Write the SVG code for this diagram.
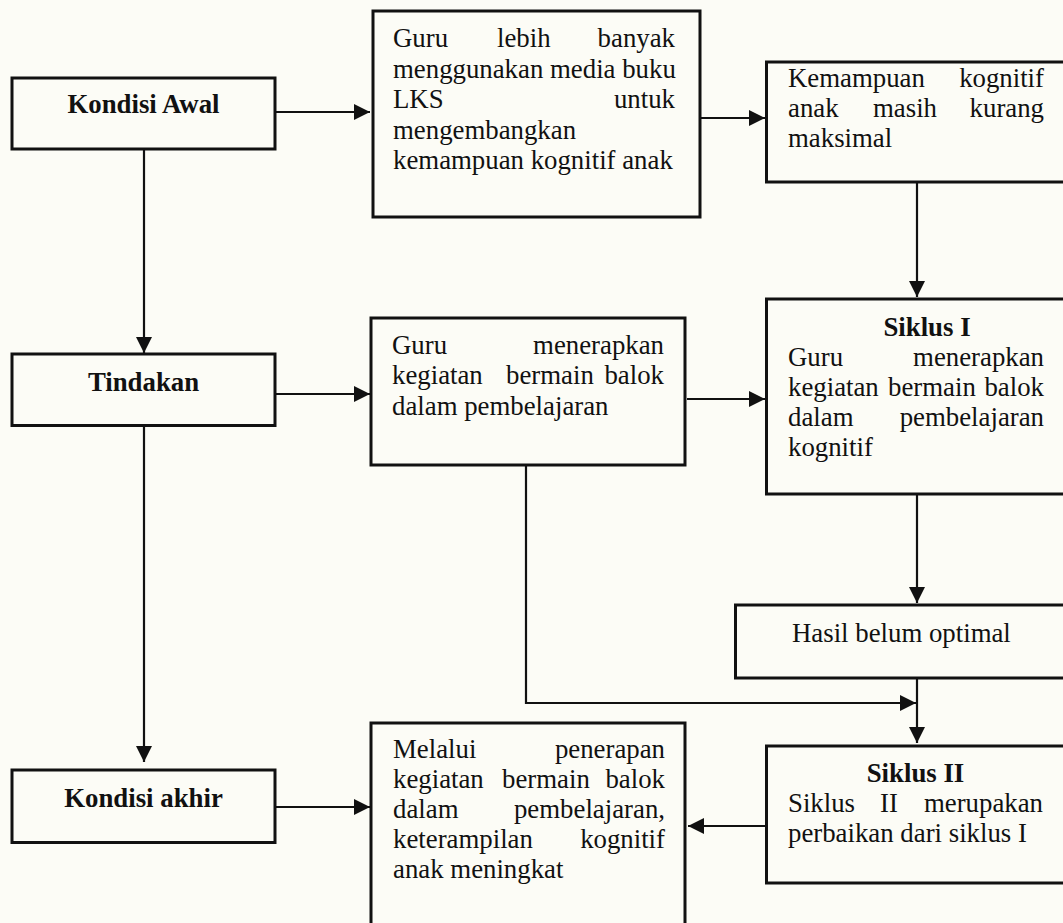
<svg xmlns="http://www.w3.org/2000/svg" width="1063" height="923" viewBox="0 0 1063 923">
<style>
.box{fill:none;stroke:#111;stroke-width:3}
.t{font-family:"Liberation Serif","Times New Roman",serif;font-size:26.8px;fill:#111}
.b{font-weight:bold}
.c{text-anchor:middle}
.e{text-anchor:end}
.ln{fill:none;stroke:#111;stroke-width:2.2}
</style>
<defs>
<marker id="ah" markerUnits="userSpaceOnUse" markerWidth="16" markerHeight="16" refX="16" refY="8" orient="auto">
<path d="M0,0 L16,8 L0,16 z" fill="#111"/>
</marker>
</defs>
<rect width="1063" height="923" fill="#fcfcf6"/>

<g id="connectors">
<line class="ln" x1="276" y1="112" x2="370" y2="112" marker-end="url(#ah)"/>
<line class="ln" x1="701" y1="118" x2="765" y2="118" marker-end="url(#ah)"/>
<line class="ln" x1="144" y1="150" x2="144" y2="353" marker-end="url(#ah)"/>
<line class="ln" x1="917" y1="183" x2="917" y2="297" marker-end="url(#ah)"/>
<line class="ln" x1="276" y1="394" x2="370" y2="394" marker-end="url(#ah)"/>
<line class="ln" x1="687" y1="399" x2="765" y2="399" marker-end="url(#ah)"/>
<line class="ln" x1="144" y1="427" x2="144" y2="762" marker-end="url(#ah)"/>
<line class="ln" x1="917" y1="495" x2="917" y2="603" marker-end="url(#ah)"/>
<polyline class="ln" points="526,466 526,703 916,703" marker-end="url(#ah)"/>
<line class="ln" x1="917" y1="679" x2="917" y2="743" marker-end="url(#ah)"/>
<line class="ln" x1="276" y1="807" x2="370" y2="807" marker-end="url(#ah)"/>
<line class="ln" x1="765" y1="826" x2="688" y2="826" marker-end="url(#ah)"/>
</g>

<g id="kondisi-awal">
<rect class="box" x="12" y="78" width="263" height="71"/>
<text class="t b c" x="143.5" y="113">Kondisi Awal</text>
</g>

<g id="guru-lks">
<rect class="box" x="373" y="11" width="327" height="206"/>
<text class="t" x="393" y="47">Guru</text>
<text class="t" x="497" y="47">lebih</text>
<text class="t e" x="675" y="47">banyak</text>
<text class="t" x="393" y="77.5">menggunakan media buku</text>
<text class="t" x="393" y="108">LKS</text>
<text class="t e" x="675" y="108">untuk</text>
<text class="t" x="393" y="138.5">mengembangkan</text>
<text class="t" x="393" y="169">kemampuan kognitif anak</text>
</g>

<g id="kemampuan">
<rect class="box" x="766.5" y="62" width="300" height="120"/>
<text class="t" x="788" y="87">Kemampuan</text>
<text class="t e" x="1044" y="87">kognitif</text>
<text class="t" x="788" y="117">anak</text>
<text class="t" x="873" y="117">masih</text>
<text class="t e" x="1044" y="117">kurang</text>
<text class="t" x="788" y="147">maksimal</text>
</g>

<g id="tindakan">
<rect class="box" x="12" y="354" width="263" height="71.5"/>
<text class="t b c" x="143.5" y="391">Tindakan</text>
</g>

<g id="guru-menerapkan">
<rect class="box" x="371" y="318" width="314" height="147"/>
<text class="t" x="392" y="354">Guru</text>
<text class="t e" x="664" y="354">menerapkan</text>
<text class="t" x="392" y="384">kegiatan</text>
<text class="t" x="506" y="384">bermain</text>
<text class="t e" x="664" y="384">balok</text>
<text class="t" x="392" y="415">dalam pembelajaran</text>
</g>

<g id="siklus-1">
<rect class="box" x="766.5" y="299" width="300" height="195"/>
<text class="t b c" x="927" y="336">Siklus I</text>
<text class="t" x="788" y="366">Guru</text>
<text class="t e" x="1044" y="366">menerapkan</text>
<text class="t" x="788" y="396">kegiatan</text>
<text class="t" x="888" y="396">bermain</text>
<text class="t e" x="1044" y="396">balok</text>
<text class="t" x="788" y="426">dalam</text>
<text class="t e" x="1044" y="426">pembelajaran</text>
<text class="t" x="788" y="456">kognitif</text>
</g>

<g id="hasil">
<rect class="box" x="735.5" y="605" width="331" height="73"/>
<text class="t" x="792" y="642">Hasil belum optimal</text>
</g>

<g id="kondisi-akhir">
<rect class="box" x="12" y="770" width="263" height="72.5"/>
<text class="t b c" x="143.5" y="807">Kondisi akhir</text>
</g>

<g id="melalui">
<rect class="box" x="371" y="723" width="314" height="210"/>
<text class="t" x="393" y="758">Melalui</text>
<text class="t e" x="665" y="758">penerapan</text>
<text class="t" x="393" y="788">kegiatan</text>
<text class="t" x="502" y="788">bermain</text>
<text class="t e" x="665" y="788">balok</text>
<text class="t" x="393" y="818">dalam</text>
<text class="t e" x="665" y="818">pembelajaran,</text>
<text class="t" x="393" y="848">keterampilan</text>
<text class="t e" x="665" y="848">kognitif</text>
<text class="t" x="393" y="878">anak meningkat</text>
</g>

<g id="siklus-2">
<rect class="box" x="766.5" y="746" width="300" height="137"/>
<text class="t b c" x="915.5" y="782">Siklus II</text>
<text class="t" x="788" y="812">Siklus</text>
<text class="t" x="880" y="812">II</text>
<text class="t e" x="1043" y="812">merupakan</text>
<text class="t" x="788" y="842">perbaikan dari siklus I</text>
</g>
</svg>
